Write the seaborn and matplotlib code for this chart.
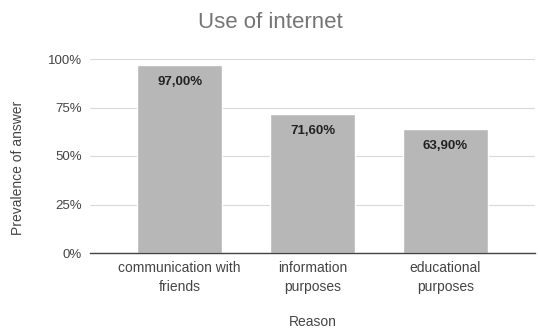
import matplotlib
matplotlib.use("Agg")
import matplotlib.pyplot as plt
import seaborn as sns
import pandas as pd

categories = ["communication with\nfriends", "information\npurposes", "educational\npurposes"]
values = [97.0, 71.6, 63.9]
value_labels = ["97,00%", "71,60%", "63,90%"]
yticks = [0, 25, 50, 75, 100]
ytick_labels = ["0%", "25%", "50%", "75%", "100%"]

sns.set_theme(style="white")
plt.rcParams['font.family'] = ['Liberation Sans', 'DejaVu Sans']

df = pd.DataFrame({"Reason": categories, "Value": values})

fig = plt.figure(figsize=(5.38, 3.28), dpi=100)
ax = fig.add_axes([90/538, 1 - 253/328, (535-90)/538, (253-59)/328])

sns.barplot(data=df, x="Reason", y="Value", color="#b7b7b7", width=0.64,
            saturation=1, ax=ax, zorder=3)

for i, (v, lab) in enumerate(zip(values, value_labels)):
    ax.text(i, v - 8.8, lab, ha="center", va="center", fontsize=9.5,
            fontweight="bold", color="#222222", zorder=4)

ax.set_xlim(-0.675, 2.675)
ax.set_ylim(0, 100)
ax.set_yticks(yticks)
ax.set_yticklabels(ytick_labels, fontsize=9.5, color="#444444")
ax.tick_params(axis="x", labelsize=10, labelcolor="#444444", length=0, pad=6)
ax.tick_params(axis="y", length=0, pad=6)
ax.grid(axis="y", color="#d9d9d9", linewidth=0.8, zorder=0)
for s in ["top", "right", "left"]:
    ax.spines[s].set_visible(False)
ax.spines["bottom"].set_color("#444444")
ax.spines["bottom"].set_linewidth(1.0)
ax.spines["bottom"].set_zorder(5)
for lbl in ax.get_xticklabels():
    lbl.set_linespacing(1.45)

ax.set_xlabel("Reason", fontsize=10, color="#444444")
ax.set_ylabel("Prevalence of answer", fontsize=10, color="#444444")
ax.xaxis.set_label_coords(0.5, -(322 - 253) / 194)
ax.yaxis.set_label_coords(-(90 - 18) / 445, (253 - 168) / 194)
ax.xaxis.label.set_va("center")
ax.yaxis.label.set_va("center")

fig.text(270/538, 1 - 23/328, "Use of internet", ha="center", va="center",
         fontsize=16, color="#757575")

fig.savefig("out.png", dpi=100)
